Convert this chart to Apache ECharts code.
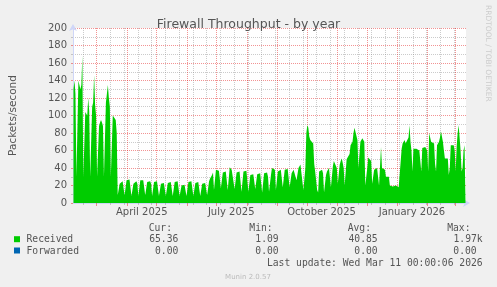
<!DOCTYPE html>
<html><head><meta charset="utf-8">
<script src="https://cdn.jsdelivr.net/npm/echarts@6/dist/echarts.min.js"></script>
<style>html,body{margin:0;padding:0;background:#F0F0F0;}#c{width:497px;height:287px;}</style>
</head><body><div id="c"></div>
<script>
// ---- data (daily values) ----
const startDate = '2025-02-05';   // first day shown
const endDate = '2026-03-12';     // end of x range
const received = [
  130,140,125,30,30,
  140,138,130,135,168,30,30,
  104,105,100,120,105,30,30,
  110,115,146,112,100,30,30,
  88,92,95,92,88,30,30,
  115,125,135,120,110,30,30,
  100,102,98,95,80,9,8,
  22,24,24,25,23,9,8,
  26,28,28,27,25,8,8,
  22,24,24,25,22,8,7,
  26,28,27,26,24,9,8,
  24,26,26,25,22,8,7,
  24,26,26,25,23,8,8,
  22,24,24,23,21,8,7,
  23,25,25,24,22,8,8,
  24,26,26,25,23,8,7,
  20,22,22,21,20,8,7,
  24,26,26,25,23,8,8,
  23,25,25,24,22,8,8,
  22,24,24,23,22,9,9,
  25,28,30,32,35,15,14,
  38,40,38,37,35,17,16,
  35,37,36,36,34,15,14,
  41,40,38,37,36,16,16,
  35,37,36,36,34,13,13,
  36,38,38,37,35,13,12,
  32,34,33,33,31,16,18,
  33,35,34,34,33,12,12,
  34,36,36,35,30,13,13,
  32,40,40,40,38,15,15,
  36,37,36,38,36,18,18,
  38,40,40,39,37,18,18,
  34,36,38,37,36,26,28,
  40,42,44,46,42,15,15,
  40,80,89,86,76,72,70,
  72,68,45,36,36,15,12,
  36,34,36,38,34,12,12,
  32,36,38,40,40,18,20,
  42,48,50,46,40,22,22,
  44,48,51,46,40,20,22,
  50,52,50,56,66,68,70,
  80,86,88,84,72,40,42,
  70,72,74,72,70,20,18,
  40,52,53,50,48,22,22,
  38,40,40,40,38,20,18,
  64,40,39,39,38,30,30,
  31,30,20,19,20,19,18,
  19,20,19,19,18,18,19,
  62,68,70,72,68,66,70,
  75,89,70,60,36,62,62,
  64,62,60,62,60,58,36,
  63,65,63,64,62,60,36,
  80,78,70,68,68,68,45,
  36,66,68,70,75,82,80,
  70,60,51,50,52,51,32,
  40,66,65,64,66,60,36,
  65,80,89,75,60,36,40,
  60,66,65
];
const forwarded = new Array(received.length).fill(0); // all read as 0.00

// grid / tick definitions
const monthStarts = ['2025-03-01','2025-04-01','2025-05-01','2025-06-01','2025-07-01','2025-08-01','2025-09-01','2025-10-01','2025-11-01','2025-12-01','2026-01-01','2026-02-01','2026-03-01'];
const minorDates = ['2025-02-15','2025-03-15','2025-03-29','2025-04-12','2025-04-26','2025-05-10','2025-05-24','2025-06-07','2025-06-21','2025-07-05','2025-07-19','2025-08-02','2025-08-16','2025-08-30','2025-09-13','2025-09-27','2025-10-11','2025-10-25','2025-11-08','2025-11-22','2025-12-06','2025-12-20','2026-01-03','2026-01-17','2026-01-31','2026-02-14','2026-02-28'];
const xLabelDates = ['2025-04-16','2025-07-16','2025-10-16','2026-01-16'];
const xLabels = ['April 2025','July 2025','October 2025','January 2026'];
const yMin = 0, yMax = 200, yStep = 20;

const legendNames = ['Received','Forwarded'];
const legendColors = ['#00CC00','#0066B3'];
const statHeads = ['Cur:','Min:','Avg:','Max:'];
const statsReceived = ['65.36','1.09','40.85','1.97k'];
const statsForwarded = ['0.00','0.00','0.00','0.00'];
const lastUpdate = 'Last update: Wed Mar 11 00:00:06 2026';

// ---- build ----
const DAY = 86400000;
const t = s => Date.parse(s + 'T00:00:00Z');
const t0 = t(startDate), t1 = t(endDate);
const recData = received.map((v, i) => [t0 + i * DAY + DAY / 2, v]);
const fwdData = forwarded.map((v, i) => [t0 + i * DAY + DAY / 2, v]);

const RED = 'rgba(230,40,40,0.5)';
const GRAY = 'rgba(140,140,140,0.45)';
const AXIS = '#CFD6F8';
const FONT = 'DejaVu Sans';
const MONO = 'DejaVu Sans Mono';

const chart = echarts.init(document.getElementById('c'), null, {renderer: 'canvas'});
const colX = [178.3, 278.7, 377.7, 476.7];
const graphics = [];
statHeads.forEach((h, i) => graphics.push({type: 'text', x: [172, 272.7, 371, 470.5][i], y: 228.5,
  style: {text: h, font: '9.7px ' + MONO, fill: '#555', align: 'right', verticalAlign: 'middle'}}));
[statsReceived, statsForwarded].forEach((row, r) => {
  const y = [239.7, 251][r];
  graphics.push({type: 'rect', shape: {x: 14, y: y - 3.5, width: 6, height: 6}, style: {fill: legendColors[r]}});
  graphics.push({type: 'text', x: 26.5, y: y, style: {text: legendNames[r], font: '9.7px ' + MONO, fill: '#555', align: 'left', verticalAlign: 'middle'}});
  row.forEach((v, i) => {
    const xr = colX[i] + (/[a-z]$/.test(v) ? 6 : 0);
    graphics.push({type: 'text', x: xr, y: y, style: {text: v, font: '9.7px ' + MONO, fill: '#555', align: 'right', verticalAlign: 'middle'}});
  });
});
graphics.push({type: 'text', x: 482.7, y: 263.7, style: {text: lastUpdate, font: '9.7px ' + MONO, fill: '#555', align: 'right', verticalAlign: 'middle'}});
graphics.push({type: 'text', x: 248, y: 277, style: {text: 'Munin 2.0.57', font: '7px ' + FONT, fill: '#bbb', align: 'center', verticalAlign: 'middle'}});
graphics.push({type: 'text', x: 487.5, y: 5, rotation: -Math.PI / 2,
  style: {text: 'RRDTOOL / TOBI OETIKER', font: '7.5px ' + FONT, fill: '#ccc', align: 'left', verticalAlign: 'middle'}});

chart.setOption({
  animation: false,
  backgroundColor: '#F0F0F0',
  textStyle: {fontFamily: FONT},
  title: {text: 'Firewall Throughput - by year', left: 'center', top: 13,
    textStyle: {fontFamily: FONT, fontSize: 12.5, fontWeight: 'normal', color: '#555'}},
  grid: {left: 66, top: 28, width: 400, height: 175, show: true, backgroundColor: '#fff', borderWidth: 0},
  xAxis: [
    {
      type: 'value', min: t0, max: t1, position: 'bottom',
      axisLine: {show: false},
      axisTick: {show: true, length: 2, customValues: minorDates.map(t), lineStyle: {color: GRAY}},
      axisLabel: {show: false},
      splitLine: {show: true, lineStyle: {color: GRAY, type: [1, 1], width: 1}}
    },
    {
      type: 'value', min: t0, max: t1, position: 'bottom',
      axisLine: {show: true, lineStyle: {color: AXIS, width: 1}, symbol: ['none', 'arrow'], symbolSize: [6, 7], symbolOffset: [0, 4]},
      axisTick: {show: true, length: 3, customValues: monthStarts.map(t), lineStyle: {color: RED}},
      axisLabel: {
        customValues: xLabelDates.map(t),
        formatter: v => xLabels[xLabelDates.map(t).indexOf(v)] || '',
        fontSize: 10, color: '#555', margin: 4, fontFamily: FONT
      },
      splitLine: {show: true, lineStyle: {color: RED, type: [1, 1], width: 1}}
    }
  ],
  yAxis: {
    type: 'value', min: yMin, max: yMax, interval: yStep,
    name: 'Packets/second', nameLocation: 'middle', nameGap: 54,
    nameTextStyle: {fontSize: 10.5, color: '#555', fontFamily: FONT},
    axisLine: {show: true, lineStyle: {color: AXIS, width: 1}, symbol: ['none', 'arrow'], symbolSize: [6, 7], symbolOffset: [0, 4]},
    axisTick: {show: true, length: 2, lineStyle: {color: RED}},
    minorTick: {show: true, splitNumber: 2, length: 2, lineStyle: {color: GRAY}},
    axisLabel: {fontSize: 10, color: '#555', margin: 6, fontFamily: FONT},
    splitLine: {show: true, lineStyle: {color: RED, type: [1, 1], width: 1}},
    minorSplitLine: {show: true, lineStyle: {color: GRAY, type: [1, 1], width: 1}}
  },
  graphic: graphics,
  series: [
    {
      name: legendNames[1], type: 'line', xAxisIndex: 1, z: 2, data: fwdData, showSymbol: false, symbol: 'none',
      lineStyle: {width: 0, color: legendColors[1]}, silent: true
    },
    {
      name: legendNames[0], type: 'line', xAxisIndex: 1, z: 3, data: recData, showSymbol: false, symbol: 'none',
      lineStyle: {width: 0, color: legendColors[0]}, itemStyle: {color: legendColors[0]},
      areaStyle: {color: legendColors[0], opacity: 1}
    }
  ]
});
</script></body></html>
